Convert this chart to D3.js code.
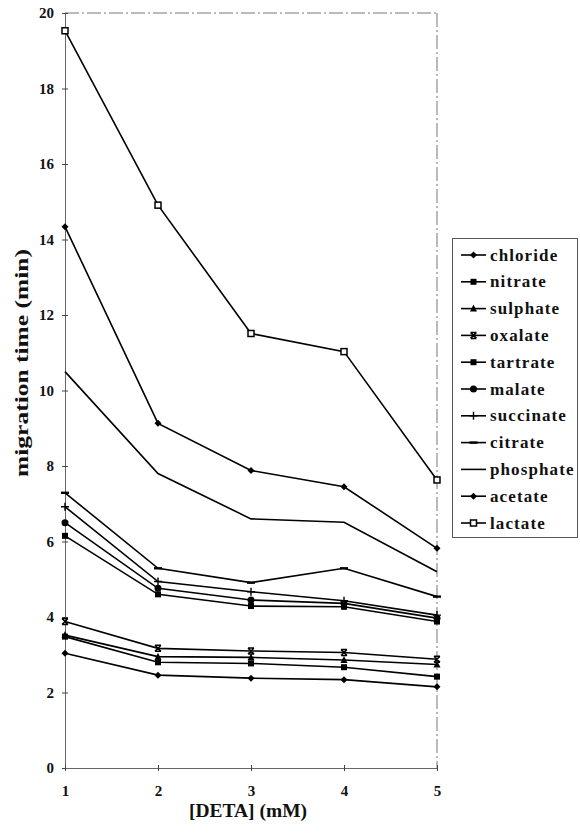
<!DOCTYPE html>
<html>
<head>
<meta charset="utf-8">
<script src="https://cdn.jsdelivr.net/npm/d3@7"></script>
<style>
  body { margin: 0; background: #fff; }
  svg text { font-family: "Liberation Serif", "DejaVu Serif", serif; font-weight: bold; fill: #111; }
</style>
</head>
<body>
<svg width="580" height="833"></svg>
<script>
// DETA concentrations (mM)
const detaConc = [1, 2, 3, 4, 5];
const yTicks = [0, 2, 4, 6, 8, 10, 12, 14, 16, 18, 20];

// migration times (min) per anion
const chloride = [3.04, 2.46, 2.38, 2.34, 2.15];
const nitrate = [3.48, 2.8, 2.77, 2.67, 2.42];
const sulphate = [3.52, 2.95, 2.93, 2.86, 2.74];
const oxalate = [3.88, 3.17, 3.1, 3.06, 2.88];
const tartrate = [6.15, 4.6, 4.29, 4.27, 3.88];
const malate = [6.5, 4.76, 4.45, 4.36, 3.97];
const succinate = [6.92, 4.94, 4.67, 4.43, 4.05];
const citrate = [7.29, 5.29, 4.91, 5.29, 4.54];
const phosphate = [10.5, 7.8, 6.6, 6.51, 5.2];
const acetate = [14.34, 9.13, 7.88, 7.45, 5.82];
const lactate = [19.53, 14.91, 11.51, 11.03, 7.63];

const seriesNames = ["chloride", "nitrate", "sulphate", "oxalate", "tartrate", "malate",
  "succinate", "citrate", "phosphate", "acetate", "lactate"];
const seriesValues = [chloride, nitrate, sulphate, oxalate, tartrate, malate,
  succinate, citrate, phosphate, acetate, lactate];
const seriesMarkers = ["diamond", "square", "triangle", "cross", "square", "circle",
  "plus", "dash", "none", "diamond", "openSquare"];

const svg = d3.select("svg");
const plotLeft = 65, plotRight = 437, plotTop = 13, plotBottom = 768;

const x = d3.scaleLinear().domain([1, 5]).range([plotLeft, plotRight]);
const y = d3.scaleLinear().domain([0, 20]).range([plotBottom, plotTop]);

// plot frame (top and right edges, dashed like the scan)
svg.append("line")
  .attr("x1", plotLeft).attr("x2", plotRight).attr("y1", plotTop).attr("y2", plotTop)
  .attr("stroke", "#777").attr("stroke-dasharray", "14,3,2,3");
svg.append("line")
  .attr("x1", plotRight).attr("x2", plotRight).attr("y1", plotTop).attr("y2", plotBottom)
  .attr("stroke", "#777").attr("stroke-dasharray", "14,3,2,3");

const yAxis = svg.append("g")
  .attr("transform", `translate(${plotLeft},0)`)
  .call(d3.axisLeft(y).tickValues(yTicks).tickSizeInner(3).tickSizeOuter(0).tickPadding(8));
const xAxis = svg.append("g")
  .attr("transform", `translate(0,${plotBottom})`)
  .call(d3.axisBottom(x).tickValues(detaConc).tickFormat(d3.format("d"))
    .tickSizeInner(3).tickSizeOuter(0).tickPadding(14));

[yAxis, xAxis].forEach((a) => {
  a.select(".domain").attr("stroke", "#666");
  a.selectAll(".tick line").attr("stroke", "#444");
  a.selectAll("text").attr("font-size", 15).attr("fill", "#111")
    .attr("font-family", "Liberation Serif").attr("font-weight", "bold");
});
// ticks cross the axis
yAxis.selectAll(".tick line").attr("x1", 3);
xAxis.selectAll(".tick line").attr("y1", -3);

// axis titles
svg.append("text")
  .attr("transform", "translate(28,363) rotate(-90)")
  .attr("text-anchor", "middle")
  .attr("font-size", 19)
  .attr("textLength", 228).attr("lengthAdjust", "spacingAndGlyphs")
  .text("migration time (min)");
svg.append("text")
  .attr("x", 248).attr("y", 817)
  .attr("text-anchor", "middle")
  .attr("font-size", 18)
  .attr("textLength", 118).attr("lengthAdjust", "spacingAndGlyphs")
  .text("[DETA] (mM)");

function drawMarker(g, type, cx, cy) {
  const s = 3;
  if (type === "diamond") {
    g.append("path").attr("d", `M${cx},${cy - s - 0.5}L${cx + s + 0.5},${cy}L${cx},${cy + s + 0.5}L${cx - s - 0.5},${cy}Z`).attr("fill", "#000");
  } else if (type === "square") {
    g.append("rect").attr("x", cx - s).attr("y", cy - s).attr("width", 2 * s).attr("height", 2 * s).attr("fill", "#000");
  } else if (type === "openSquare") {
    g.append("rect").attr("x", cx - s).attr("y", cy - s).attr("width", 2 * s).attr("height", 2 * s)
      .attr("fill", "#fff").attr("stroke", "#000").attr("stroke-width", 1.5);
  } else if (type === "triangle") {
    g.append("path").attr("d", `M${cx},${cy - s - 1}L${cx + s + 0.5},${cy + s}L${cx - s - 0.5},${cy + s}Z`).attr("fill", "#000");
  } else if (type === "circle") {
    g.append("circle").attr("cx", cx).attr("cy", cy).attr("r", s + 0.5).attr("fill", "#000");
  } else if (type === "cross") {
    g.append("path").attr("d", `M${cx - s},${cy - s}L${cx + s},${cy + s}M${cx - s},${cy + s}L${cx + s},${cy - s}M${cx - s},${cy - s}L${cx + s},${cy - s}M${cx - s},${cy + s}L${cx + s},${cy + s}`)
      .attr("stroke", "#000").attr("stroke-width", 1.5);
  } else if (type === "plus") {
    g.append("path").attr("d", `M${cx - s - 1},${cy}L${cx + s + 1},${cy}M${cx},${cy - s - 1}L${cx},${cy + s + 1}`)
      .attr("stroke", "#000").attr("stroke-width", 1.4);
  } else if (type === "dash") {
    g.append("path").attr("d", `M${cx - s - 1},${cy}L${cx + s + 1},${cy}`)
      .attr("stroke", "#000").attr("stroke-width", 2.4);
  }
}

const line = d3.line().x((d, i) => x(detaConc[i])).y((d) => y(d));
const plot = svg.append("g");

seriesValues.forEach((vals) => {
  plot.append("path")
    .datum(vals)
    .attr("d", line)
    .attr("fill", "none")
    .attr("stroke", "#000")
    .attr("stroke-width", 1.6);
});
seriesValues.forEach((vals, k) => {
  vals.forEach((v, i) => drawMarker(plot, seriesMarkers[k], x(detaConc[i]), y(v)));
});

// legend
const legend = svg.append("g");
legend.append("rect")
  .attr("x", 452.5).attr("y", 238.5).attr("width", 125).attr("height", 299)
  .attr("fill", "#fff").attr("stroke", "#555").attr("stroke-width", 1);

seriesNames.forEach((name, k) => {
  const ly = 255 + k * 26.8;
  legend.append("line")
    .attr("x1", 461).attr("x2", 486).attr("y1", ly).attr("y2", ly)
    .attr("stroke", "#000").attr("stroke-width", 1.6);
  drawMarker(legend, seriesMarkers[k], 473.5, ly);
  legend.append("text")
    .attr("x", 490).attr("y", ly)
    .attr("dy", "0.33em")
    .attr("font-size", 17)
    .attr("letter-spacing", 1.1)
    .text(name);
});
</script>
</body>
</html>
